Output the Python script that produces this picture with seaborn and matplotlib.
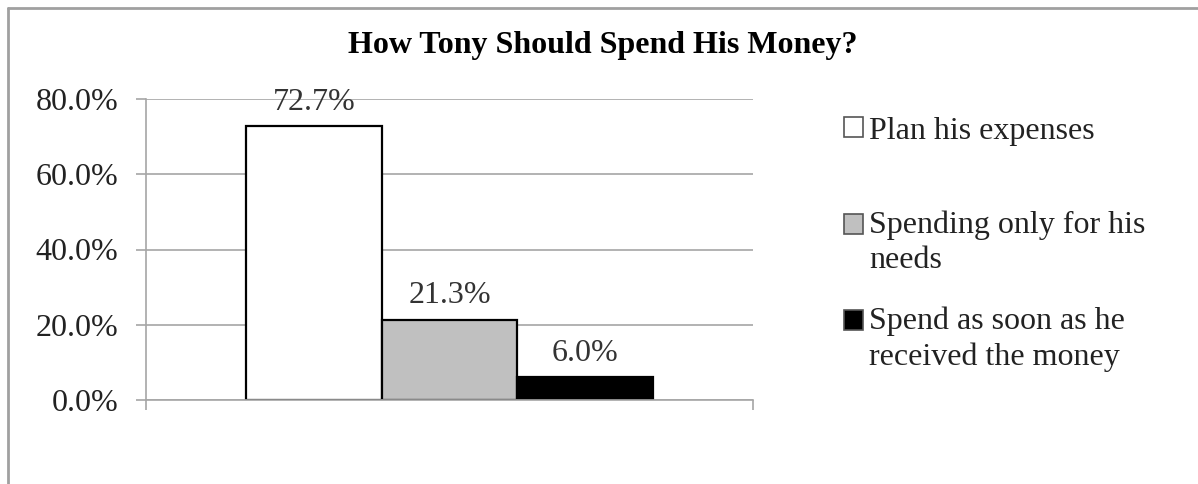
import matplotlib
matplotlib.use("Agg")
import matplotlib.pyplot as plt
import seaborn as sns
import pandas as pd
from matplotlib.ticker import PercentFormatter
from matplotlib.patches import Patch, Rectangle
from matplotlib.lines import Line2D
from matplotlib.legend_handler import HandlerPatch

# data
answers = ["Plan his expenses",
           "Spending only for his\nneeds",
           "Spend as soon as he\nreceived the money"]
shares = [0.727, 0.213, 0.060]
bar_colors = ["#FFFFFF", "#C0C0C0", "#000000"]
yticks = [0.0, 0.2, 0.4, 0.6, 0.8]
title = "How Tony Should Spend His Money?"

df = pd.DataFrame({"group": [""] * len(answers), "answer": answers, "share": shares})

sns.set_theme(style="white")
plt.rcParams["font.family"] = ["Liberation Serif", "DejaVu Serif"]

W, H = 1198, 484
fig = plt.figure(figsize=(W / 100, H / 100), dpi=100)
ax = fig.add_axes([146 / W, 1 - 400 / H, 607 / W, 301 / H])

sns.barplot(data=df, x="group", y="share", hue="answer", hue_order=answers,
            palette=bar_colors, width=0.67, gap=0, edgecolor="black",
            linewidth=1.6, legend=False, ax=ax)

grid_col = "#A6A6A6"
ax.set_ylim(0, 0.8)
ax.set_xlim(-0.5, 0.5)
ax.set_yticks(yticks)
ax.yaxis.set_major_formatter(PercentFormatter(1.0, decimals=1))
ax.yaxis.grid(True, color=grid_col, linewidth=1.2)
ax.set_axisbelow(True)
ax.set_xticks([-0.5, 0.5])
ax.set_xticklabels([])
ax.set_xlabel("")
ax.set_ylabel("")
for s in ["top", "right"]:
    ax.spines[s].set_visible(False)
for s in ["left", "bottom"]:
    ax.spines[s].set_color(grid_col)
    ax.spines[s].set_linewidth(1.2)
ax.tick_params(axis="y", direction="out", length=7, width=1.2, color=grid_col,
               pad=13, labelsize=23, labelcolor="#222222", left=True)
ax.tick_params(axis="x", direction="out", length=7, width=1.2, color=grid_col, bottom=True)

for cont, v in zip(ax.containers, shares):
    ax.bar_label(cont, labels=[f"{v * 100:.1f}%"], padding=7, fontsize=23, color="#333333")


# legend: one entry per block, square aligned with the first text line
def square_handler(n_lines):
    lift = (n_lines - 1) * 13.5

    def make(legend, orig_handle, xdescent, ydescent, width, height, fontsize):
        return Rectangle((-xdescent, -ydescent + lift), width, height)
    return HandlerPatch(patch_func=make)


entry_y = [131, 243, 339]
for lab, col, yc in zip(answers, bar_colors, entry_y):
    h = Patch(facecolor=col, edgecolor="#555555", linewidth=1.2)
    leg = fig.legend([h], [lab], loc="center left", bbox_to_anchor=(815 / W, 1 - yc / H),
                     frameon=False, fontsize=23, handlelength=0.6, handleheight=0.6,
                     handletextpad=0.2,
                     handler_map={h: square_handler(lab.count("\n") + 1)})
    for t in leg.get_texts():
        t.set_color("#222222")
        t.set_linespacing(1.28)

fig.text(603 / W, 1 - 45 / H, title, ha="center", va="center", fontsize=23,
         fontweight="bold", color="black")

# outer chart frame (left and top edges visible)
fig.add_artist(Line2D([8 / W, 8 / W], [0, 1 - 8 / H], color="#A0A0A0", lw=2,
                      transform=fig.transFigure))
fig.add_artist(Line2D([8 / W, 1], [1 - 8 / H, 1 - 8 / H], color="#A0A0A0", lw=2,
                      transform=fig.transFigure))

fig.savefig("out.png", dpi=100)
